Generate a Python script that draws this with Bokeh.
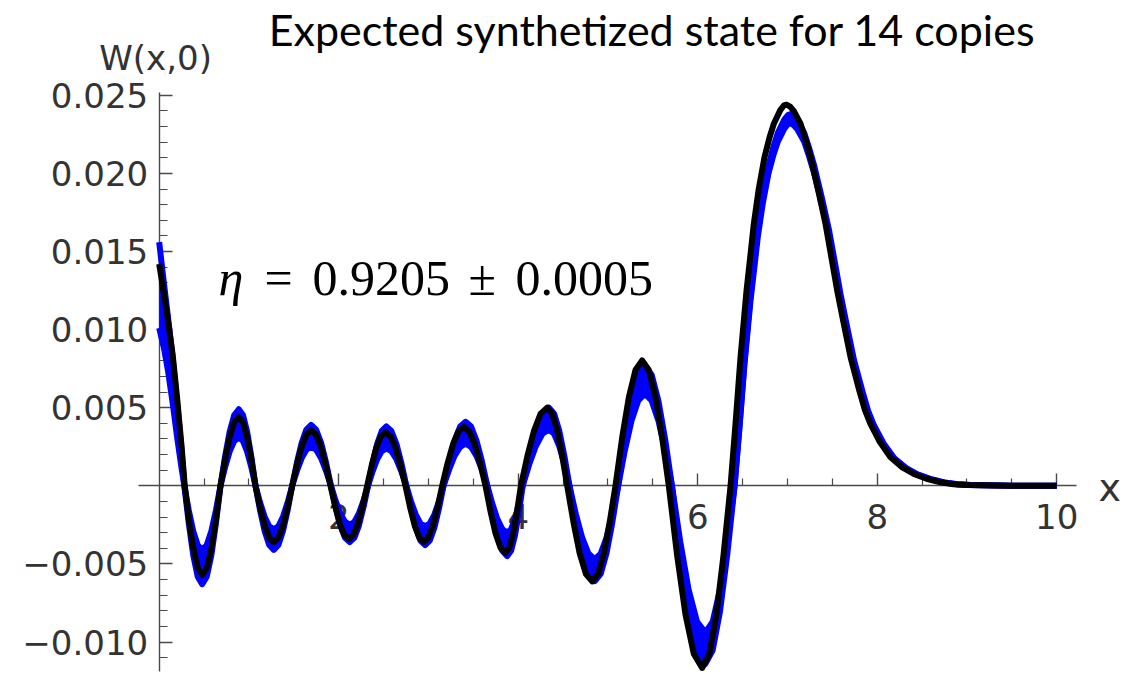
from bokeh.plotting import figure
from bokeh.models import (Range1d, LinearAxis, FixedTicker, CustomJSTickFormatter,
                          Label, Grid)
from bokeh.embed import file_html
from bokeh.resources import INLINE

# ---- data: W(x,0) of the expected synthesized state (black) ----
black_x = [0.0, 0.05, 0.10, 0.15, 0.20, 0.25, 0.285, 0.3335, 0.382, 0.4305,
           0.479, 0.530, 0.581, 0.632, 0.683, 0.734, 0.785, 0.836, 0.887, 0.9335,
           0.980, 1.0265, 1.073, 1.124, 1.175, 1.226, 1.277, 1.328, 1.379, 1.431,
           1.482, 1.535, 1.588, 1.640, 1.693, 1.747, 1.801, 1.855, 1.909, 1.960,
           2.011, 2.062, 2.113, 2.164, 2.215, 2.266, 2.317, 2.368, 2.419, 2.470,
           2.521, 2.577, 2.633, 2.688, 2.744, 2.795, 2.846, 2.897, 2.948, 2.999,
           3.050, 3.102, 3.153, 3.213, 3.274, 3.334, 3.394, 3.455, 3.515, 3.576,
           3.636, 3.692, 3.747, 3.803, 3.858, 3.901, 3.944, 3.987, 4.030, 4.103,
           4.177, 4.250, 4.323, 4.379, 4.435, 4.490, 4.546, 4.616, 4.685, 4.755,
           4.824, 4.889, 4.954, 5.019, 5.084, 5.158, 5.233, 5.307, 5.381, 5.455,
           5.530, 5.604, 5.678, 5.771, 5.864, 5.957, 6.050, 6.129, 6.208, 6.287,
           6.366, 6.421, 6.477, 6.544, 6.590, 6.625, 6.680, 6.744, 6.800, 6.848,
           6.920, 6.960, 6.990, 7.030, 7.070, 7.146, 7.200, 7.257, 7.340, 7.424,
           7.490, 7.554, 7.630, 7.703, 7.800, 7.860, 7.925, 8.030, 8.148, 8.280,
           8.408, 8.550, 8.705, 8.850, 9.0, 9.5, 10.0]
black_w = [0.0142, 0.0124, 0.0105, 0.0084, 0.0056, 0.0025, 0.0, -0.0023, -0.00403, -0.00527,
           -0.0057, -0.00527, -0.00403, -0.00218, 0.0, 0.00169, 0.00311, 0.00407, 0.0044, 0.00407,
           0.00311, 0.00169, 0.0, -0.00138, -0.00255, -0.00333, -0.0036, -0.00333, -0.00255, -0.00138,
           0.0, 0.00136, 0.00251, 0.00328, 0.00355, 0.00328, 0.00251, 0.00136, 0.0, -0.0013,
           -0.0024, -0.00314, -0.0034, -0.00314, -0.0024, -0.0013, 0.0, 0.00131, 0.00243, 0.00317,
           0.00343, 0.00317, 0.00243, 0.00131, 0.0, -0.00137, -0.00253, -0.00331, -0.00358, -0.00331,
           -0.00253, -0.00137, 0.0, 0.00144, 0.00267, 0.00348, 0.00377, 0.00348, 0.00267, 0.00144,
           0.0, -0.00165, -0.00304, -0.00397, -0.0043, -0.00397, -0.00304, -0.00165, 0.0, 0.00192,
           0.00354, 0.00462, 0.0050, 0.00462, 0.00354, 0.00192, 0.0, -0.00234, -0.00433, -0.00565,
           -0.00612, -0.00565, -0.00433, -0.00234, 0.0, 0.00307, 0.00567, 0.00741, 0.00802, 0.00741,
           0.00567, 0.00307, 0.0, -0.00447, -0.00824, -0.01077, -0.01166, -0.01077, -0.00824, -0.00447,
           0.0, 0.00396, 0.00823, 0.0125, 0.0149, 0.01677, 0.0190, 0.02104, 0.0223, 0.02318,
           0.02405, 0.02435, 0.0244, 0.02428, 0.0240, 0.02318, 0.0222, 0.02104, 0.0190, 0.01677,
           0.0146, 0.0125, 0.0103, 0.00823, 0.0061, 0.0049, 0.00396, 0.0028, 0.00183, 0.00118,
           0.00076, 0.00045, 0.00023, 0.0001, 0.00005, 0.0, 0.0]

# ---- data: spread of W(x,0) over the eta uncertainty (blue band) ----
band_x = [0.0, 0.05, 0.10, 0.15, 0.20, 0.25, 0.28, 0.3298, 0.3795, 0.4293,
          0.479, 0.530, 0.581, 0.632, 0.683, 0.734, 0.785, 0.836, 0.887, 0.9335,
          0.980, 1.0265, 1.073, 1.124, 1.175, 1.226, 1.277, 1.328, 1.379, 1.431,
          1.482, 1.535, 1.588, 1.640, 1.693, 1.748, 1.804, 1.859, 1.914, 1.966,
          2.019, 2.071, 2.123, 2.174, 2.225, 2.276, 2.327, 2.378, 2.429, 2.480,
          2.531, 2.587, 2.643, 2.698, 2.754, 2.806, 2.859, 2.911, 2.963, 3.014,
          3.066, 3.117, 3.168, 3.230, 3.291, 3.353, 3.414, 3.475, 3.535, 3.596,
          3.656, 3.712, 3.767, 3.823, 3.878, 3.921, 3.964, 4.007, 4.050, 4.123,
          4.197, 4.270, 4.343, 4.400, 4.457, 4.514, 4.571, 4.642, 4.713, 4.783,
          4.854, 4.919, 4.984, 5.049, 5.114, 5.188, 5.263, 5.337, 5.411, 5.487,
          5.562, 5.638, 5.713, 5.806, 5.899, 5.992, 6.085, 6.167, 6.248, 6.330,
          6.411, 6.466, 6.522, 6.589, 6.635, 6.670, 6.725, 6.789, 6.845, 6.893,
          6.965, 7.005, 7.035, 7.070, 7.110, 7.186, 7.240, 7.297, 7.380, 7.464,
          7.530, 7.594, 7.670, 7.743, 7.840, 7.900, 7.965, 8.070, 8.188, 8.320,
          8.448, 8.590, 8.745, 8.890, 9.040, 9.5, 10.0]
band_outer = [0.0156, 0.0131, 0.0107, 0.0082, 0.0053, 0.0022, 0.0, -0.00241, -0.00445, -0.00582,
              -0.0063, -0.00582, -0.00445, -0.00241, 0.0, 0.00188, 0.00346, 0.00453, 0.0049, 0.00453,
              0.00346, 0.00188, 0.0, -0.00157, -0.0029, -0.00379, -0.0041, -0.00379, -0.0029, -0.00157,
              0.0, 0.00149, 0.00276, 0.0036, 0.0039, 0.0036, 0.00276, 0.00149, 0.0, -0.00138,
              -0.00255, -0.00333, -0.0036, -0.00333, -0.00255, -0.00138, 0.0, 0.00146, 0.00269, 0.00351,
              0.0038, 0.00351, 0.00269, 0.00146, 0.0, -0.00146, -0.00269, -0.00351, -0.0038, -0.00351,
              -0.00269, -0.00146, 0.0, 0.00157, 0.0029, 0.00379, 0.0041, 0.00379, 0.0029, 0.00157,
              0.0, -0.00172, -0.00318, -0.00416, -0.0045, -0.00416, -0.00318, -0.00172, 0.0, 0.00192,
              0.00354, 0.00462, 0.0050, 0.00462, 0.00354, 0.00192, 0.0, -0.00234, -0.00431, -0.00564,
              -0.0061, -0.00564, -0.00431, -0.00234, 0.0, 0.00295, 0.00544, 0.00711, 0.0077, 0.00711,
              0.00544, 0.00295, 0.0, -0.00437, -0.00806, -0.01053, -0.0114, -0.01053, -0.00806, -0.00437,
              0.0, 0.00386, 0.00802, 0.01219, 0.01453, 0.01635, 0.01853, 0.02051, 0.02174, 0.0226,
              0.02345, 0.02374, 0.0238, 0.02367, 0.0234, 0.0226, 0.02165, 0.02051, 0.01853, 0.01635,
              0.01424, 0.01219, 0.01004, 0.00802, 0.00595, 0.00478, 0.00386, 0.00273, 0.00178, 0.00115,
              0.00074, 0.00044, 0.00022, 0.0001, 0.00005, 0.0, 0.0]
band_inner = [0.0101, 0.0089, 0.0073, 0.0053, 0.0031, 0.0011, 0.0, -0.00157, -0.0029, -0.00379,
              -0.0041, -0.00379, -0.0029, -0.00157, 0.0, 0.00119, 0.00219, 0.00286, 0.0031, 0.00286,
              0.00219, 0.00119, 0.0, -0.00107, -0.00198, -0.00259, -0.0028, -0.00259, -0.00198, -0.00107,
              0.0, 0.00096, 0.00177, 0.00231, 0.0025, 0.00231, 0.00177, 0.00096, 0.0, -0.00096,
              -0.00177, -0.00231, -0.0025, -0.00231, -0.00177, -0.00096, 0.0, 0.00092, 0.0017, 0.00222,
              0.0024, 0.00222, 0.0017, 0.00092, 0.0, -0.001, -0.00184, -0.0024, -0.0026, -0.0024,
              -0.00184, -0.001, 0.0, 0.00103, 0.00191, 0.00249, 0.0027, 0.00249, 0.00191, 0.00103,
              0.0, -0.00115, -0.00212, -0.00277, -0.003, -0.00277, -0.00212, -0.00115, 0.0, 0.00138,
              0.00255, 0.00333, 0.0036, 0.00333, 0.00255, 0.00138, 0.0, -0.0018, -0.00332, -0.00434,
              -0.0047, -0.00434, -0.00332, -0.0018, 0.0, 0.00226, 0.00417, 0.00545, 0.0059, 0.00545,
              0.00417, 0.00226, 0.0, -0.0036, -0.00665, -0.00869, -0.0094, -0.00869, -0.00665, -0.0036,
              0.0, 0.00377, 0.00783, 0.01189, 0.01417, 0.01595, 0.01807, 0.02001, 0.02121, 0.02204,
              0.02287, 0.02316, 0.0232, 0.02309, 0.02283, 0.02204, 0.02111, 0.02001, 0.01807, 0.01595,
              0.01388, 0.01189, 0.0098, 0.00783, 0.0058, 0.00466, 0.00377, 0.00266, 0.00174, 0.00112,
              0.00072, 0.00043, 0.00022, 0.0001, 0.00005, 0.0, 0.0]

x_major = [2, 4, 6, 8, 10]
x_minor = [0.5, 1, 1.5, 2.5, 3, 3.5, 4.5, 5, 5.5, 6.5, 7, 7.5, 8.5, 9, 9.5]
y_major = [-0.010, -0.005, 0.005, 0.010, 0.015, 0.020, 0.025]
y_minor = [round(k * 0.001, 3) for k in range(-11, 25) if k % 5 != 0]

title_text = "Expected synthetized state for 14 copies"
eta_parts = ["\u03b7", "=", "0.9205", "\u00b1", "0.0005"]

# ---- figure ----
p = figure(width=1144, height=674, output_backend="svg", toolbar_location=None,
           x_range=Range1d(-1.768, 10.978), y_range=Range1d(-0.01208, 0.03107),
           x_axis_location=None, y_axis_location=None, min_border=0,
           outline_line_color=None, background_fill_color="white",
           border_fill_color="white")
for g in p.select(type=Grid):
    g.visible = False

AX = "#4a4a4a"
TXT = "#333333"

xaxis = LinearAxis(fixed_location=0, bounds=(-0.23, 10.22), level="underlay",
                   ticker=FixedTicker(ticks=x_major, minor_ticks=x_minor))
xaxis.axis_line_color = AX
xaxis.axis_line_width = 1.4
xaxis.major_tick_line_color = AX
xaxis.minor_tick_line_color = AX
xaxis.major_tick_line_width = 1.4
xaxis.minor_tick_line_width = 1.2
xaxis.major_tick_in = 12
xaxis.major_tick_out = 0
xaxis.minor_tick_in = 7
xaxis.minor_tick_out = 0
xaxis.major_label_standoff = 18
xaxis.major_label_text_font = "DejaVu Sans"
xaxis.major_label_text_font_size = "34px"
xaxis.major_label_text_color = TXT
p.add_layout(xaxis, "below")

yaxis = LinearAxis(fixed_location=0, bounds=(-0.0119, 0.0252), level="underlay",
                   ticker=FixedTicker(ticks=y_major, minor_ticks=y_minor),
                   formatter=CustomJSTickFormatter(
                       code="return (tick < 0 ? '\\u2212' : '') + Math.abs(tick).toFixed(3);"))
yaxis.axis_line_color = AX
yaxis.axis_line_width = 1.4
yaxis.major_tick_line_color = AX
yaxis.minor_tick_line_color = AX
yaxis.major_tick_line_width = 1.4
yaxis.minor_tick_line_width = 1.2
yaxis.major_tick_in = 13
yaxis.major_tick_out = 0
yaxis.minor_tick_in = 8
yaxis.minor_tick_out = 0
yaxis.major_label_standoff = 11
yaxis.major_label_text_font = "DejaVu Sans"
yaxis.major_label_text_font_size = "34px"
yaxis.major_label_text_color = TXT
p.add_layout(yaxis, "left")

# ---- curves ----
BLUE = "#0000ff"
p.varea(x=band_x, y1=band_inner, y2=band_outer, fill_color=BLUE, fill_alpha=1.0)
p.line(band_x, band_outer, line_color=BLUE, line_width=6, line_join="round")
p.line(band_x, band_inner, line_color=BLUE, line_width=6, line_join="round")
p.line(black_x, black_w, line_color="black", line_width=6, line_join="round")

# ---- texts ----
p.add_layout(Label(x=5.491, y=0.02921, text=title_text, text_font="Lato",
                   text_font_size="43px", text_color="black", text_align="center",
                   text_baseline="alphabetic"))
p.add_layout(Label(x=-0.04, y=0.02737, text="W(x,0)", text_font="DejaVu Sans",
                   text_font_size="34px", text_color=TXT, text_align="center",
                   text_baseline="alphabetic"))
p.add_layout(Label(x=10.466, y=-0.00011, text="x", text_font="DejaVu Sans",
                   text_font_size="38px", text_color=TXT, text_align="left",
                   text_baseline="alphabetic"))

eta_x = [0.662, 1.173, 1.708, 3.446, 3.970]
for i, (xx, t) in enumerate(zip(eta_x, eta_parts)):
    p.add_layout(Label(x=xx, y=0.01328, text=t, text_font="Liberation Serif",
                       text_font_size="50px", text_color="black",
                       text_font_style="italic" if i == 0 else "normal",
                       text_align="left", text_baseline="alphabetic"))

open("out.html", "w").write(file_html(p, INLINE))
